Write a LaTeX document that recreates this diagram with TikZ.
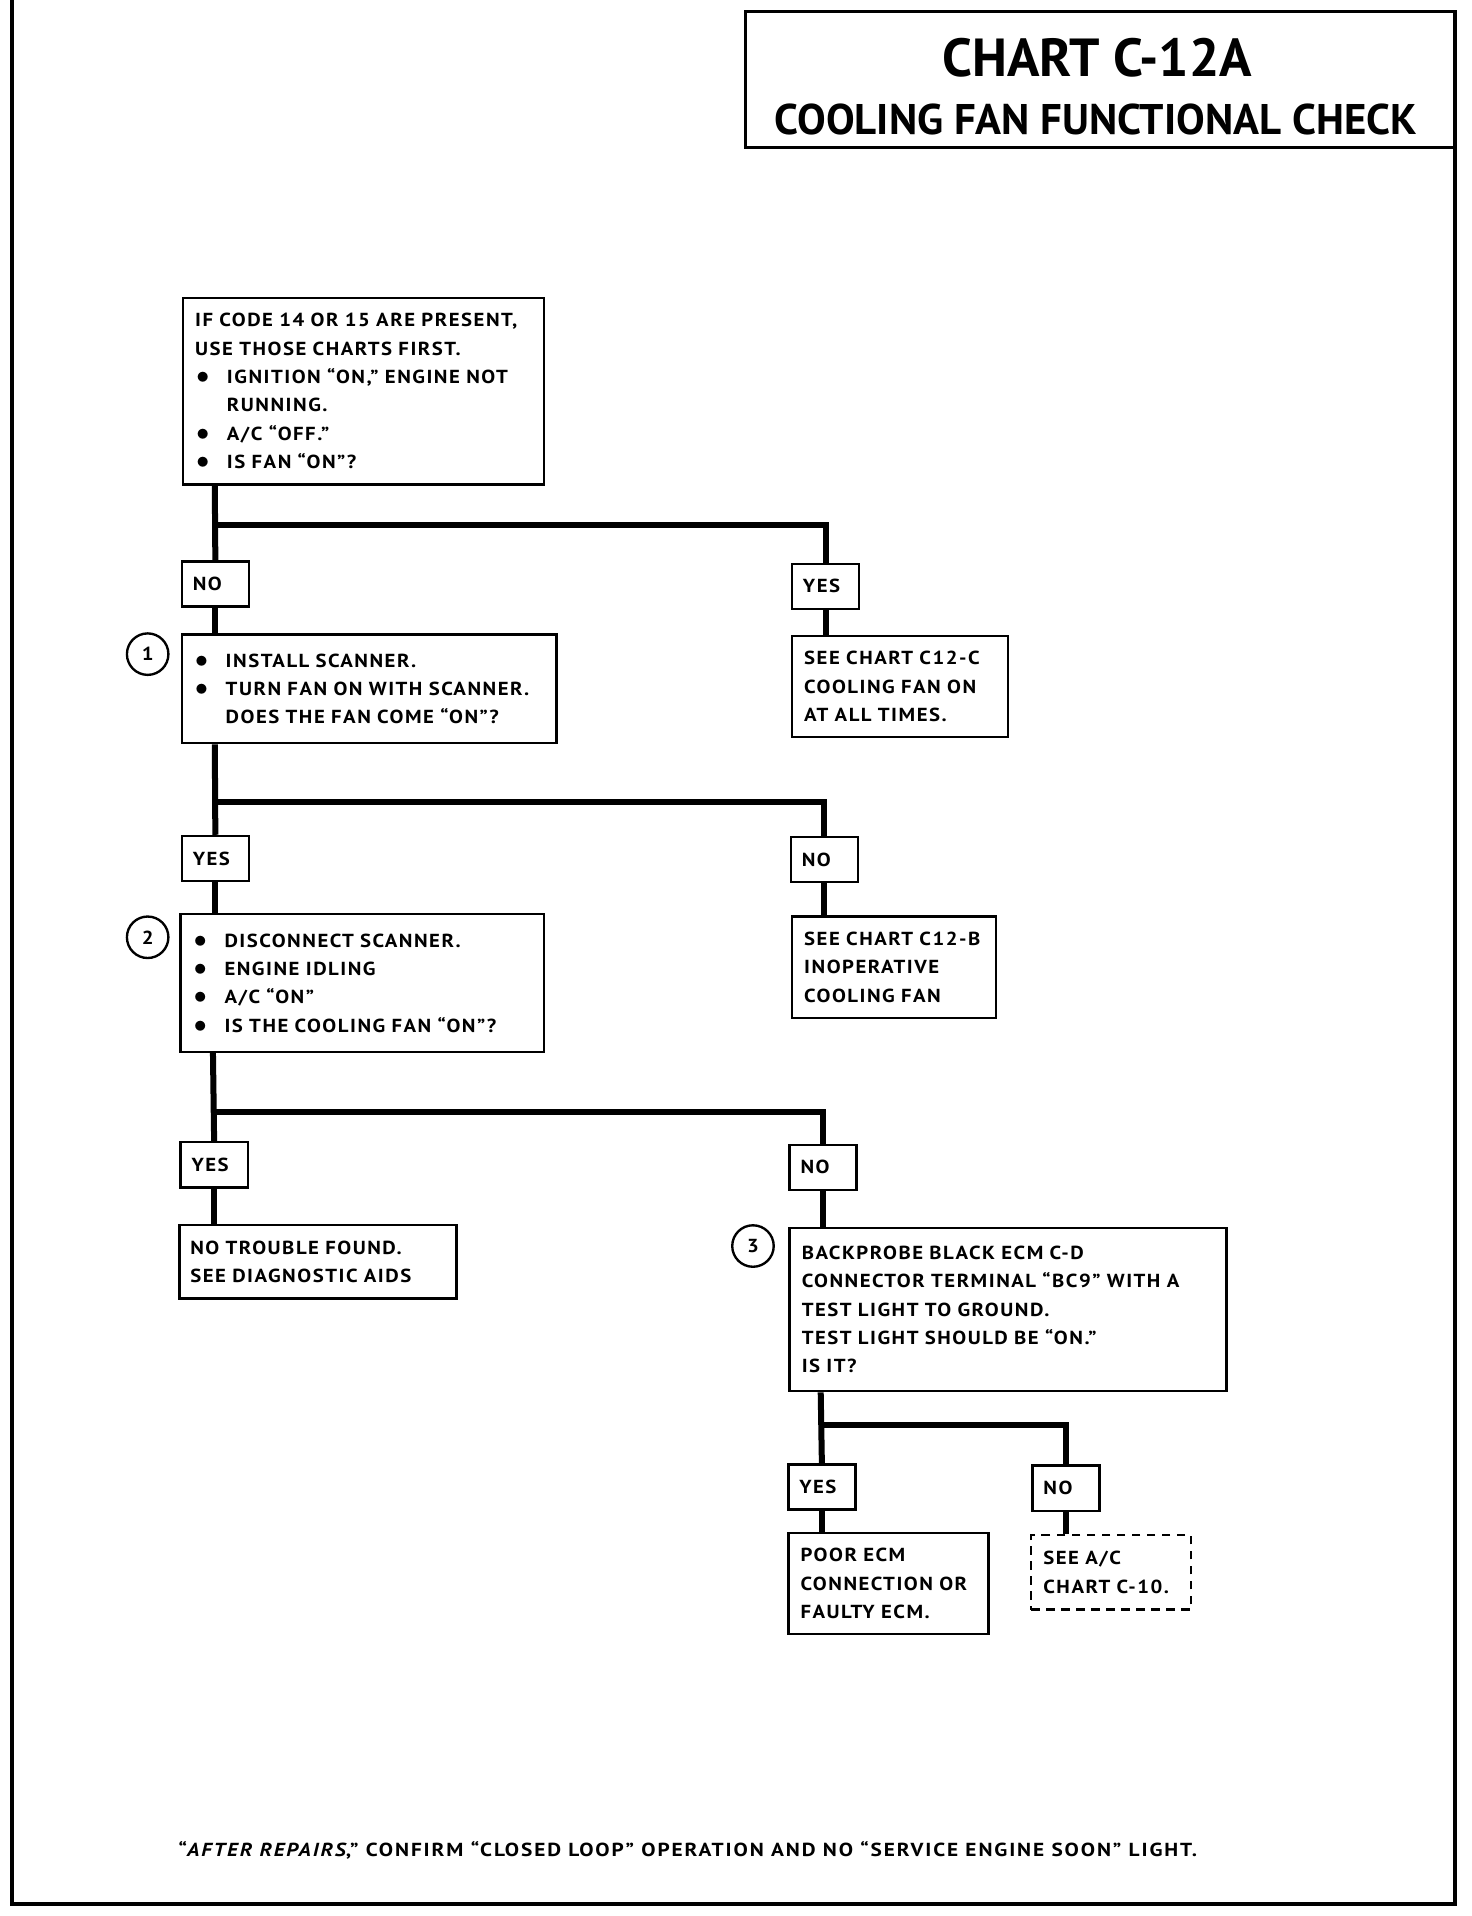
\documentclass[tikz,border=0pt]{standalone}
\usepackage{fontspec}
\setmainfont{PT Sans}
\newfontfamily\bodyfam[LetterSpace=8, FakeStretch=1.1]{PT Sans}
\newfontfamily\footfam[LetterSpace=10, FakeStretch=1.13]{PT Sans}
\usetikzlibrary{positioning}

\newcommand{\bodyfont}{\bodyfam\fontsize{8.8}{13.2}\bfseries\selectfont}
\newcommand{\bul}{\makebox[0.52cm][l]{\hspace{0.02cm}\scalebox{1.3}{$\bullet$}}}
\newcommand{\ind}{\hspace*{0.52cm}}

\tikzset{
  box/.style={draw, line width=1.1pt, anchor=north west, inner xsep=0.2cm, inner ysep=0pt, align=left, font=\bodyfont},
  tag/.style={draw, line width=1.1pt, anchor=north west, inner xsep=0.18cm, inner ysep=0pt, align=left, font=\bodyfont, text width=0.74cm, minimum height=0.74cm},
  trunk/.style={line width=2.8pt},
  frame/.style={line width=1.7pt},
  stepnum/.style={draw, circle, line width=1.1pt, minimum size=0.68cm, inner sep=0pt, font=\bodyfont},
}

\begin{document}
\begin{tikzpicture}[x=0.02cm, y=-0.02cm]
  \useasboundingbox (0,0) rectangle (1206,1570);

  % page frame and title
  \draw[frame] (10,0) -- (10,1560) -- (1192,1560) -- (1192,8);
  \node[draw, line width=1.3pt, anchor=north west, minimum width=11.64cm, minimum height=2.24cm] (titlebox) at (610,8) {};
  \node[font=\fontsize{25}{25}\bfseries\selectfont] (ttl) at (899,47) {CHART C-12A};
  \node[font=\fontsize{20}{20}\bfseries\selectfont] (sub) at (898,98) {COOLING FAN FUNCTIONAL CHECK};

  % first check
  \node[box, text width=5.52cm, minimum height=3.06cm] (b0) at (149,243)
    {IF CODE 14 OR 15 ARE PRESENT,\\
     USE THOSE CHARTS FIRST.\\
     \bul IGNITION “ON,” ENGINE NOT\\
     \ind RUNNING.\\
     \bul A/C “OFF.”\\
     \bul IS FAN “ON”?};

  \node[tag] (no1) at (148,459) {NO};
  \node[tag] (yes1) at (648,461) {YES};
  \coordinate (j1) at (176,430);

  \node[stepnum] (n1) at (121,536) {1};
  \node[box, text width=5.74cm, minimum height=1.78cm] (b1) at (148,519)
    {\bul INSTALL SCANNER.\\
     \bul TURN FAN ON WITH SCANNER.\\
     \ind DOES THE FAN COME “ON”?};
  \node[box, text width=3.14cm, minimum height=1.66cm] (c12c) at (648,520)
    {SEE CHART C12-C\\ COOLING FAN ON\\ AT ALL TIMES.};

  \node[tag] (yes2) at (148,684) {YES};
  \node[tag] (no2) at (647,685) {NO};
  \coordinate (j2) at (176,657);

  \node[stepnum] (n2) at (121,768) {2};
  \node[box, text width=5.56cm, minimum height=2.26cm] (b2) at (147,748)
    {\bul DISCONNECT SCANNER.\\
     \bul ENGINE IDLING\\
     \bul A/C “ON”\\
     \bul IS THE COOLING FAN “ON”?};
  \node[box, text width=2.94cm, minimum height=1.66cm] (c12b) at (648,750)
    {SEE CHART C12-B\\ INOPERATIVE\\ COOLING FAN};

  \node[tag] (yes3) at (147,935) {YES};
  \node[tag] (no3) at (646,937) {NO};
  \coordinate (j3) at (174.5,911);

  \node[box, inner xsep=0.18cm, text width=4.18cm, minimum height=1.2cm] (ntf) at (146,1003)
    {NO TROUBLE FOUND.\\ SEE DIAGNOSTIC AIDS};

  \node[stepnum] (n3) at (617,1021) {3};
  \node[box, text width=6.76cm, minimum height=2.68cm] (b3) at (646,1005)
    {BACKPROBE BLACK ECM C-D\\
     CONNECTOR TERMINAL “BC9” WITH A\\
     TEST LIGHT TO GROUND.\\
     TEST LIGHT SHOULD BE “ON.”\\
     IS IT?};

  \node[tag] (yes4) at (645,1199) {YES};
  \node[tag] (no4) at (845,1200) {NO};
  \coordinate (j4) at (672.5,1168);

  \node[box, text width=2.88cm, minimum height=1.66cm] (poor) at (645,1255)
    {POOR ECM\\ CONNECTION OR\\ FAULTY ECM.};
  \node[box, dashed, dash pattern=on 4pt off 3pt, text width=2.22cm, minimum height=1.22cm] (seeac) at (844,1257)
    {SEE A/C\\ CHART C-10.};

  % connectors
  \draw[trunk] (b0.south -| j1) -- (no1.north);
  \draw[trunk] (j1) -| (yes1.north);
  \draw[trunk] (no1.south) -- (no1.south |- b1.north);
  \draw[trunk] (yes1.south) -- (yes1.south |- c12c.north);

  \draw[trunk] (b1.south -| j2) -- (yes2.north);
  \draw[trunk] (j2) -| (no2.north);
  \draw[trunk] (yes2.south) -- (yes2.south |- b2.north);
  \draw[trunk] (no2.south) -- (no2.south |- c12b.north);

  \draw[trunk] (b2.south -| j3) -- (yes3.north);
  \draw[trunk] (j3) -| (no3.north);
  \draw[trunk] (yes3.south) -- (yes3.south |- ntf.north);
  \draw[trunk] (no3.south) -- (no3.south |- b3.north);

  \draw[trunk] (b3.south -| j4) -- (yes4.north);
  \draw[trunk] (j4) -| (no4.north);
  \draw[trunk] (yes4.south) -- (yes4.south |- poor.north);
  \draw[trunk] (no4.south) -- (no4.south |- seeac.north);

  % footer
  \node[anchor=west, inner sep=0pt, font=\footfam\fontsize{8.8}{13}\bfseries\selectfont] (foot) at (146,1516)
    {“\textit{AFTER REPAIRS},” CONFIRM “CLOSED LOOP” OPERATION AND NO “SERVICE ENGINE SOON” LIGHT.};
\end{tikzpicture}
\end{document}
